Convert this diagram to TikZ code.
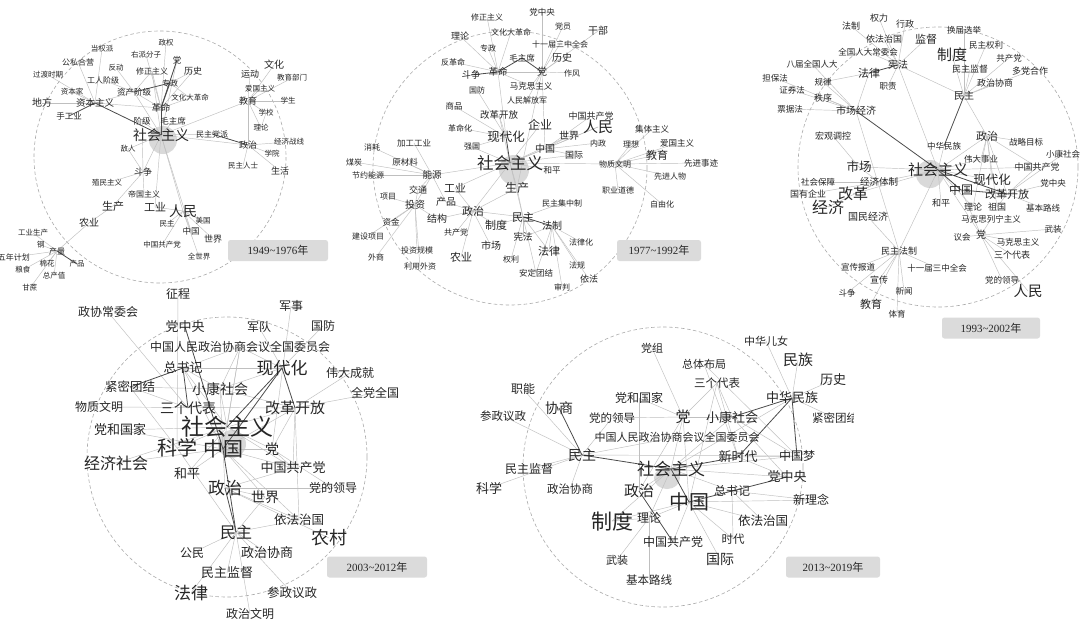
\documentclass[tikz,border=0pt]{standalone}
\usepackage{fontspec}
\setmainfont{Liberation Serif}
\newfontfamily\cjk{Noto Sans CJK SC}
\usetikzlibrary{backgrounds}
\tikzset{
  w/.style={font=\cjk\fontsize{#1}{#1}\selectfont, inner sep=0pt, text=black!85},
  ed/.style={draw=gray!50, line width=0.45pt},
  edk/.style={draw=black!70, line width=0.8pt},
  ring/.style={draw=gray!65, dash pattern=on 3.5pt off 2.5pt, line width=0.6pt},
  hub/.style={fill=gray!30, draw=none},
  yb/.style={fill=gray!28, rounded corners=2.5pt, minimum width=100pt, minimum height=21pt, inner sep=0pt, font=\fontsize{11}{11}\selectfont, text=black!85}
}
\begin{document}
\begin{tikzpicture}[x=1pt,y=-1pt]
\useasboundingbox (0,0) rectangle (1080,630);
% ---------------- cluster 1 ----------------
\node[w=7.5] (aZQ) at (166,43) {政权};
\node[w=7.5] (aDQP) at (102,49) {当权派};
\node[w=7.5] (aYP) at (146,55) {右派分子};
\node[w=8.5] (aD) at (177,60) {党};
\node[w=8] (aGS) at (78,62) {公私合营};
\node[w=7.5] (aFD) at (116,68) {反动};
\node[w=8] (aXZ) at (152,71) {修正主义};
\node[w=9] (aLS) at (193,71) {历史};
\node[w=7.5] (aGD) at (48,75) {过渡时期};
\node[w=8] (aGR) at (103,80) {工人阶级};
\node[w=8] (aZZ) at (170,83) {专政};
\node[w=9] (aYD) at (250,74) {运动};
\node[w=10] (aWH) at (274,65) {文化};
\node[w=7.5] (aJYB) at (292,78) {教育部门};
\node[w=7.5] (aZBJ) at (72,92) {资本家};
\node[w=8.5] (aZC) at (134,92) {资产阶级};
\node[w=7.5] (aAG) at (260,89) {爱国主义};
\node[w=7.5] (aWG) at (190,98) {文化大革命};
\node[w=7.5] (aXS) at (288,101) {学生};
\node[w=10] (aDF) at (42,103) {地方};
\node[w=9.5] (aZB) at (95,103) {资本主义};
\node[w=9] (aJY) at (248,101) {教育};
\node[w=9.5] (aGM) at (161,108) {革命};
\node[w=7.5] (aXX) at (266,113) {学校};
\node[w=8.5] (aSG) at (69,116) {手工业};
\node[w=8.5] (aJJ) at (142,121) {阶级};
\node[w=8.5] (aMZ) at (173,121) {毛主席};
\node[w=7.5] (aLL) at (261,128) {理论};
\node[w=14] (aSH) at (161,135) {社会主义};
\node[w=8] (aMZDP) at (212,134) {民主党派};
\node[w=7.5] (aJJZX) at (289,142) {经济战线};
\node[w=9] (aZZh) at (248,145) {政治};
\node[w=7.5] (aDR) at (128,149) {敌人};
\node[w=7.5] (aXY) at (272,154) {学院};
\node[w=7.5] (aMZRS) at (243,166) {民主人士};
\node[w=9] (aSHuo) at (280,171) {生活};
\node[w=9] (aDZ) at (143,172) {斗争};
\node[w=7.5] (aZM) at (107,183) {殖民主义};
\node[w=8] (aDG) at (144,194) {帝国主义};
\node[w=11] (aSC) at (113,206) {生产};
\node[w=11] (aGY) at (155,207) {工业};
\node[w=14] (aRM) at (183,211) {人民};
\node[w=10] (aNY) at (89,223) {农业};
\node[w=7.5] (aMZh) at (167,224) {民主};
\node[w=7.5] (aMG) at (203,221) {美国};
\node[w=8.5] (aZG) at (191,231) {中国};
\node[w=9] (aSJ) at (213,239) {世界};
\node[w=7.5] (aGYSC) at (33,233) {工业生产};
\node[w=7.5] (aG) at (41,245) {钢};
\node[w=7.5] (aZGGCD) at (162,245) {中国共产党};
\node[w=8] (aCL) at (57,251) {产量};
\node[w=8,anchor=east] (aWN) at (30,257) {五年计划};
\node[w=7.5] (aMH) at (47,264) {棉花};
\node[w=7.5] (aCP) at (77,264) {产品};
\node[w=7.5] (aQSJ) at (199,257) {全世界};
\node[w=7.5] (aLSh) at (23,270) {粮食};
\node[w=7.5] (aZCZ) at (54,276) {总产值};
\node[w=7.5] (aGZ) at (30,288) {甘蔗};
\node[yb] (ya) at (278,250.5) {1949\textasciitilde 1976{\cjk 年}};
% ---------------- cluster 2 ----------------
\node[w=8.5] (bDZY) at (542,12) {党中央};
\node[w=8] (bXZ) at (487,17) {修正主义};
\node[w=8] (bDY) at (563,26) {党员};
\node[w=10] (bGB) at (598,31) {干部};
\node[w=8] (bWG) at (511,32) {文化大革命};
\node[w=9] (bLL) at (460,36) {理论};
\node[w=8] (bSY) at (560,44) {十一届三中全会};
\node[w=8] (bZZ) at (488,48) {专政};
\node[w=8.5] (bMZX) at (522,58) {毛主席};
\node[w=10] (bLS) at (562,58) {历史};
\node[w=8] (bFG) at (453,62) {反革命};
\node[w=9.5] (bDZ) at (471,75) {斗争};
\node[w=9.5] (bGM) at (498,72) {革命};
\node[w=10] (bD) at (542,72) {党};
\node[w=8] (bZF) at (572,73) {作风};
\node[w=8.5] (bMK) at (531,86) {马克思主义};
\node[w=8] (bGF) at (477,90) {国防};
\node[w=8] (bJFJ) at (527,100) {人民解放军};
\node[w=8.5] (bSP) at (454,106) {商品};
\node[w=9.5] (bGK) at (499,115) {改革开放};
\node[w=12] (bQY) at (540,125) {企业};
\node[w=9] (bGCD) at (591,116) {中国共产党};
\node[w=15] (bRM) at (598,127) {人民};
\node[w=8] (bGMH) at (460,128) {革命化};
\node[w=8.5] (bJT) at (652,129) {集体主义};
\node[w=12.5] (bXD) at (506,137) {现代化};
\node[w=10] (bSJ) at (569,136) {世界};
\node[w=8] (bLX) at (631,144) {理想};
\node[w=8.5] (bAG) at (677,143) {爱国主义};
\node[w=8] (bNZ) at (598,143) {内政};
\node[w=8.5] (bJG) at (414,143) {加工工业};
\node[w=8] (bXH) at (372,147) {消耗};
\node[w=8] (bQG) at (472,147) {强国};
\node[w=10] (bZG) at (545,149) {中国};
\node[w=16.5] (bSH) at (510,163) {社会主义};
\node[w=9] (bGJ) at (574,155) {国际};
\node[w=8] (bWZ) at (615,164) {物质文明};
\node[w=11] (bJY) at (657,155) {教育};
\begin{scope}
\clip (680,150) rectangle (720,175);
\node[w=8.5] (bXJSJ) at (701,163) {先进事迹};
\end{scope}
\node[w=8.5] (bHP) at (552,170) {和平};
\node[w=8] (bMT) at (354,162) {煤炭};
\node[w=8.5] (bYCL) at (405,162) {原材料};
\node[w=8] (bJYNY) at (368,175) {节约能源};
\node[w=9.5] (bNYu) at (432,175) {能源};
\node[w=8] (bXJRW) at (670,176) {先进人物};
\node[w=9] (bJTo) at (418,190) {交通};
\node[w=11] (bGY) at (455,188) {工业};
\node[w=12] (bSC) at (517,188) {生产};
\node[w=8] (bZYDD) at (618,190) {职业道德};
\node[w=8] (bXM) at (388,197) {项目};
\node[w=10] (bCP) at (446,202) {产品};
\node[w=10] (bTZ) at (415,205) {投资};
\node[w=8] (bMJZ) at (562,203) {民主集中制};
\node[w=8] (bZYH) at (662,204) {自由化};
\node[w=11] (bZZh) at (473,211) {政治};
\node[w=10] (bJGo) at (437,219) {结构};
\node[w=11] (bMZ) at (523,217) {民主};
\node[w=11] (bZD) at (496,225) {制度};
\node[w=8.5] (bZJ) at (391,222) {资金};
\node[w=10] (bFZ) at (552,226) {法制};
\node[w=8] (bGCDang) at (456,232) {共产党};
\node[w=9.5] (bXF) at (523,237) {宪法};
\node[w=8] (bJSXM) at (368,236) {建设项目};
\node[w=8] (bFLH) at (581,242) {法律化};
\node[w=10] (bSCh) at (491,246) {市场};
\node[w=8] (bTZGM) at (417,250) {投资规模};
\node[w=11] (bFL) at (549,251) {法律};
\node[w=8] (bWS) at (376,257) {外商};
\node[w=11] (bNY) at (461,257) {农业};
\node[w=8] (bQL) at (511,259) {权利};
\node[w=8] (bFGu) at (577,265) {法规};
\node[w=8] (bLYWZ) at (420,266) {利用外资};
\node[w=8.5] (bAD) at (536,273) {安定团结};
\node[w=9] (bYF) at (589,279) {依法};
\node[w=8] (bSPan) at (562,287) {审判};
\node[yb, minimum width=84pt] (yb) at (659,250.5) {1977\textasciitilde 1992{\cjk 年}};
% ---------------- cluster 3 ----------------
\node[w=9] (cQL) at (879,18) {权力};
\node[w=9] (cFZ) at (851,26) {法制};
\node[w=9] (cXZ) at (905,24) {行政};
\node[w=8.5] (cHJ) at (964,30) {换届选举};
\node[w=9] (cYF) at (884,39) {依法治国};
\node[w=11] (cJD) at (926,39) {监督};
\node[w=15] (cZD) at (952,55) {制度};
\node[w=8.5] (cMQ) at (986,45) {民主权利};
\node[w=8.5] (cQG) at (868,52) {全国人大常委会};
\node[w=8.5] (cGCD) at (1009,58) {共产党};
\node[w=8.5] (cBJ) at (812,64) {八届全国人大};
\node[w=10] (cXF) at (898,65) {宪法};
\node[w=11] (cFL) at (869,73) {法律};
\node[w=9] (cMJ) at (970,69) {民主监督};
\node[w=9] (cDD) at (1030,71) {多党合作};
\node[w=8.5] (cDB) at (775,78) {担保法};
\node[w=8.5] (cGL) at (823,82) {规律};
\node[w=8.5] (cZZ) at (888,86) {职责};
\node[w=9] (cZX) at (995,83) {政治协商};
\node[w=8.5] (cZQ) at (792,90) {证券法};
\node[w=9] (cZXu) at (823,98) {秩序};
\node[w=10] (cMZ) at (964,96) {民主};
\node[w=8.5] (cPJ) at (790,109) {票据法};
\node[w=10] (cSJ) at (856,111) {市场经济};
\node[w=9] (cHG) at (833,136) {宏观调控};
\node[w=11] (cZZh) at (987,136) {政治};
\node[w=8.5] (cZL) at (1026,142) {战略目标};
\node[w=8.5] (cZH) at (944,146) {中华民族};
\node[w=8.5] (cWD) at (981,159) {伟大事业};
\node[w=8.5] (cXK) at (1063,154) {小康社会};
\node[w=9] (cGCDD) at (1037,167) {中国共产党};
\node[w=15] (cSH) at (938,170) {社会主义};
\node[w=12.5] (cXD) at (992,180) {现代化};
\node[w=8.5] (cDZY) at (1053,183) {党中央};
\node[w=12] (cZG) at (961,190) {中国};
\node[w=11] (cGK) at (1007,194) {改革开放};
\node[w=9] (cHP) at (941,203) {和平};
\node[w=9] (cLL) at (973,207) {理论};
\node[w=9] (cZGu) at (997,207) {祖国};
\node[w=8.5] (cJB) at (1043,208) {基本路线};
\node[w=8.5] (cMKL) at (991,219) {马克思列宁主义};
\node[w=8.5] (cWZ) at (1053,229) {武装};
\node[w=8.5] (cYH) at (962,237) {议会};
\node[w=10] (cD) at (981,235) {党};
\node[w=8.5] (cMK) at (1018,242) {马克思主义};
\node[w=12.5] (cSC) at (859,167) {市场};
\node[w=8.5] (cSB) at (818,182) {社会保障};
\node[w=9.5] (cJT) at (879,182) {经济体制};
\node[w=9] (cGY) at (808,194) {国有企业};
\node[w=15] (cGG) at (853,194) {改革};
\node[w=16] (cJJ) at (828,207) {经济};
\node[w=10] (cGM) at (868,217) {国民经济};
\node[w=9] (cMF) at (899,251) {民主法制};
\node[w=9] (cSGD) at (1012,255) {三个代表};
\node[w=8.5] (cXCB) at (858,267) {宣传报道};
\node[w=8.5] (cSY) at (937,268) {十一届三中全会};
\node[w=9] (cXC) at (879,280) {宣传};
\node[w=8.5] (cDL) at (1002,280) {党的领导};
\node[w=8.5] (cXW) at (904,291) {新闻};
\node[w=8.5] (cDZ) at (847,293) {斗争};
\node[w=14.5] (cRM) at (1028,291) {人民};
\node[w=11] (cJY) at (871,304) {教育};
\node[w=8.5] (cTY) at (897,314) {体育};
\node[yb, minimum width=98pt] (yc) at (991,328) {1993\textasciitilde 2002{\cjk 年}};
% ---------------- cluster 4 ----------------
\node[w=12] (dZC) at (178,294) {征程};
\node[w=12] (dZXC) at (108,312) {政协常委会};
\node[w=12] (dJS) at (291,306) {军事};
\node[w=13] (dDZY) at (185,327) {党中央};
\node[w=12] (dJD) at (259,327) {军队};
\node[w=12] (dGF) at (323,326) {国防};
\node[w=12] (dQG) at (240,347) {中国人民政治协商会议全国委员会};
\node[w=13] (dZSJ) at (183,368) {总书记};
\node[w=17] (dXD) at (282,368) {现代化};
\node[w=12] (dWD) at (350,373) {伟大成就};
\node[w=12.5] (dJM) at (130,387) {紧密团结};
\node[w=14] (dXK) at (220,389) {小康社会};
\node[w=12] (dQD) at (375,393) {全党全国};
\node[w=12] (dWZ) at (99,407) {物质文明};
\node[w=14] (dSGD) at (188,408) {三个代表};
\node[w=15] (dGK) at (295,408) {改革开放};
\node[w=13] (dDG) at (120,430) {党和国家};
\node[w=20] (dKX) at (177,448) {科学};
\node[w=20] (dZG) at (223,449) {中国};
\node[w=23] (dSH) at (227,427) {社会主义};
\node[w=14] (dD) at (272,449) {党};
\node[w=13] (dGCD) at (293,468) {中国共产党};
\node[w=13] (dHP) at (187,474) {和平};
\node[w=17] (dZZ) at (225,488) {政治};
\node[w=12] (dDL) at (333,488) {党的领导};
\node[w=14] (dSJ) at (265,497) {世界};
\node[w=16] (dJJ) at (116,463) {经济社会};
\node[w=12.5] (dYF) at (299,520) {依法治国};
\node[w=16] (dMZ) at (236,532) {民主};
\node[w=18] (dNC) at (329,538) {农村};
\node[w=12] (dGM) at (192,553) {公民};
\node[w=13] (dZX) at (267,553) {政治协商};
\node[w=13] (dMJ) at (227,573) {民主监督};
\node[w=17] (dFL) at (191,593) {法律};
\node[w=12.5] (dCZ) at (292,593) {参政议政};
\node[w=12] (dZW) at (250,614) {政治文明};
\node[yb] (yd) at (377,567) {2003\textasciitilde 2012{\cjk 年}};
% ---------------- cluster 5 ----------------
\node[w=11] (eZHEN) at (766,341) {中华儿女};
\node[w=11] (eDZ) at (652,348) {党组};
\node[w=15] (eMZu) at (798,360) {民族};
\node[w=11] (eZT) at (704,364) {总体布局};
\node[w=13] (eLS) at (833,380) {历史};
\node[w=11.5] (eSGD) at (717,383) {三个代表};
\node[w=12] (eZN) at (523,389) {职能};
\node[w=12] (eDG) at (639,398) {党和国家};
\node[w=13] (eZH) at (792,398) {中华民族};
\node[w=14] (eXS) at (559,408) {协商};
\node[w=11.5] (eCZ) at (503,416) {参政议政};
\node[w=11.5] (eDL) at (612,418) {党的领导};
\node[w=15] (eD) at (683,417) {党};
\node[w=13] (eXK) at (732,417) {小康社会};
\begin{scope}
\clip (800,405) rectangle (853,432);
\node[w=11.5] (eJM) at (835,418) {紧密团结};
\end{scope}
\node[w=11] (eQG) at (677,437) {中国人民政治协商会议全国委员会};
\node[w=14] (eMZ) at (582,455) {民主};
\node[w=13] (eXSD) at (738,457) {新时代};
\node[w=12] (eZGM) at (797,456) {中国梦};
\node[w=17] (eSH) at (671,469) {社会主义};
\node[w=12] (eMJ) at (529,469) {民主监督};
\node[w=13] (eDZY) at (787,477) {党中央};
\node[w=13] (eKX) at (489,488) {科学};
\node[w=11.5] (eZX) at (570,489) {政治协商};
\node[w=15] (eZZ) at (639,491) {政治};
\node[w=12] (eZSJ) at (732,491) {总书记};
\node[w=12] (eXLN) at (811,500) {新理念};
\node[w=20] (eZG) at (689,502) {中国};
\node[w=21] (eZD) at (612,521) {制度};
\node[w=12] (eLL) at (649,518) {理论};
\node[w=12.5] (eYF) at (763,521) {依法治国};
\node[w=12] (eGCD) at (673,542) {中国共产党};
\node[w=11.5] (eSD) at (733,539) {时代};
\node[w=14] (eGJ) at (720,559) {国际};
\node[w=11] (eWZ) at (617,560) {武装};
\node[w=11.5] (eJB) at (649,580) {基本路线};
\node[yb, minimum width=94pt] (ye) at (833,567) {2013\textasciitilde 2019{\cjk 年}};
% ================= background =================
\begin{pgfonlayer}{background}
\fill[white] (0,0) rectangle (1080,630);
\draw[ring] (160,157) circle (126);
\draw[ring] (510,168) circle (137);
\draw[ring] (938,167) circle (140);
\draw[ring] (227,457) circle (140);
\draw[ring] (663,467) circle (140);
\fill[hub] (163,140) circle (14);
\fill[hub] (514,170) circle (15);
\fill[hub] (930,174) circle (14);
\fill[hub] (232,444) circle (14);
\fill[hub] (667,478) ellipse (13 and 11);
% cluster 1 edges
\foreach \a/\b in {aSH/aJJ,aSH/aMZ,aSH/aZC,aSH/aDZ,aSH/aRM,aSH/aZZh,aSH/aJY,aSH/aMZDP,aSH/aXZ,aSH/aGY,aSH/aDR,aSH/aD,aSH/aZG,
  aGM/aXZ,aGM/aLS,aGM/aWG,aGM/aZC,aGM/aYP,aGM/aZB,aGM/aZQ,aZZ/aLS,aZZ/aWG,aZC/aFD,aZC/aGR,aZC/aXZ,aZC/aZB,
  aZB/aZBJ,aZB/aDF,aZB/aGS,aZB/aDQP,aZB/aGD,aJY/aYD,aJY/aWH,aJY/aJYB,aJY/aAG,aJY/aXS,aJY/aXX,aJY/aLL,aJY/aZZh,
  aZZh/aJJZX,aZZh/aXY,aZZh/aMZRS,aZZh/aSHuo,aDZ/aZM,aDZ/aDG,aDZ/aSC,aDZ/aDR,aDZ/aJJ,aSC/aNY,aNY/aCL,
  aCL/aGYSC,aCL/aG,aCL/aWN,aCL/aMH,aCL/aLSh,aCL/aZCZ,aCL/aGZ,aRM/aGY,aRM/aMZh,aRM/aZG,aRM/aMG,aRM/aSJ,aRM/aQSJ,aRM/aZGGCD,aXX/aLL}
  \draw[ed] (\a.center) -- (\b.center);
\foreach \a/\b in {aSH/aGM,aSH/aZB,aGM/aZZ,aGM/aD,aZZ/aZC,aZB/aSG,aZZh/aMZDP,aCL/aCP}
  \draw[edk] (\a.center) -- (\b.center);
% cluster 2 edges
\foreach \a/\b in {bGM/bFG,bGM/bZZ,bGM/bXZ,bGM/bWG,bGM/bLL,bGM/bMK,bGM/bD,bD/bZF,bGM/bXD,
  bD/bDZY,bD/bDY,bD/bGB,bD/bSY,bD/bLS,bD/bMK,bD/bJFJ,bD/bZG,bD/bSC,
  bSH/bZG,bSH/bQY,bSH/bRM,bSH/bSJ,bSH/bGJ,bSH/bWZ,bSH/bHP,bSH/bSC,bSH/bNYu,bSH/bGY,bSH/bZZh,bSH/bGK,bSH/bQG,bSH/bMZ,
  bNYu/bXH,bNYu/bMT,bNYu/bYCL,bNYu/bJYNY,bNYu/bJG,bNYu/bJTo,bNYu/bTZ,bNYu/bCP,
  bTZ/bXM,bTZ/bZJ,bTZ/bJSXM,bTZ/bWS,bTZ/bTZGM,bTZ/bLYWZ,bTZ/bJGo,bTZ/bJTo,
  bZZh/bMZ,bZZh/bJGo,bZZh/bGCDang,bZZh/bSCh,bZZh/bNY,bZZh/bSC,bZZh/bCP,bZZh/bZD,bZZh/bGY,
  bMZ/bZD,bMZ/bXF,bMZ/bQL,bMZ/bAD,bMZ/bMJZ,bMZ/bFL,bMZ/bSC,
  bFZ/bFLH,bFZ/bFL,bFZ/bFGu,bFZ/bYF,bFZ/bSPan,bFZ/bXF,bFZ/bAD,
  bWZ/bLX,bWZ/bJT,bWZ/bAG,bWZ/bJY,bWZ/bXJSJ,bWZ/bXJRW,bWZ/bZYDD,bWZ/bZYH,
  bZG/bGCD,bZG/bSJ,bZG/bRM,bZG/bNZ,bZG/bGJ,bSP/bXD,bGMH/bXD,bQG/bXD,bGF/bXD,bGK/bXD}
  \draw[ed] (\a.center) -- (\b.center);
\foreach \a/\b in {bGM/bMZX,bMZX/bD,bGM/bDZ,bMZ/bFZ,bXD/bSH}
  \draw[edk] (\a.center) -- (\b.center);
% cluster 3 edges
\foreach \a/\b in {cXF/cYF,cXF/cQG,cXF/cFZ,cXF/cQL,cXF/cXZ,cXF/cJD,cXF/cZZ,cXF/cMZ,cXF/cSH,
  cMZ/cHJ,cMZ/cMQ,cMZ/cGCD,cMZ/cDD,cMZ/cMJ,cMZ/cZX,cMZ/cZD,cMZ/cZZh,
  cSJ/cFL,cSJ/cBJ,cSJ/cDB,cSJ/cZQ,cSJ/cGL,cSJ/cZXu,cSJ/cPJ,cSJ/cMF,
  cSH/cSC,cSH/cJT,cSH/cGG,cSH/cXD,cSH/cLL,cSH/cD,cSH/cMF,cSH/cZH,cSH/cZZh,cSH/cHP,cSH/cWD,cSH/cGCDD,
  cZZh/cWD,cZZh/cGCDD,cZZh/cGK,cZZh/cZGu,cZZh/cZL,cZZh/cXD,cZZh/cLL,cGK/cXK,cGK/cDZY,cGK/cJB,cGK/cZGu,cGK/cGCDD,
  cD/cMKL,cD/cMK,cD/cWZ,cD/cSGD,cD/cDL,cD/cRM,cD/cYH,cD/cZG,
  cMF/cXCB,cMF/cXC,cMF/cXW,cMF/cDZ,cMF/cJY,cMF/cTY,cMF/cSY,cMF/cGM,
  cJT/cSB,cJT/cGY,cJT/cGG,cJT/cJJ,cJT/cSC,cHG/cSC,cFL/cGL}
  \draw[ed] (\a.center) -- (\b.center);
\foreach \a/\b in {cXF/cFL,cSJ/cSH,cMZ/cZH,cSH/cZG,cSH/cGK,cZG/cGK}
  \draw[edk] (\a.center) -- (\b.center);
% cluster 4 edges
\foreach \a/\b in {dZC/dKX,dZXC/dSGD,dJS/dD,dJD/dXD,dGF/dXD,dQG/dSH,dQG/dXK,dQG/dZSJ,dQG/dZG,dQG/dXD,
  dZSJ/dXD,dZSJ/dXK,dZSJ/dZG,dZSJ/dSH,dJM/dSGD,dJM/dKX,dJM/dXK,dXK/dSH,dXK/dGK,dXK/dXD,dXK/dZG,
  dWZ/dGK,dGK/dWD,dGK/dQD,dGK/dSH,dGK/dZG,dGK/dD,dGK/dGCD,dGK/dYF,dDG/dSH,dDG/dZG,dJJ/dSH,dJJ/dZG,
  dSH/dD,dSH/dGCD,dSH/dHP,dSH/dKX,dZG/dHP,dZG/dD,dZG/dGCD,dZG/dSJ,dZG/dYF,dZG/dZZ,
  dZZ/dDL,dZZ/dGCD,dZZ/dNC,dZZ/dYF,dZZ/dSJ,dMZ/dGM,dMZ/dZX,dMZ/dMJ,dMZ/dFL,dMZ/dCZ,dMZ/dZW,dMZ/dYF,dMZ/dSJ,dMZ/dKX,dD/dDL,dD/dGCD}
  \draw[ed] (\a.center) -- (\b.center);
\foreach \a/\b in {dDZY/dZG,dZSJ/dJM,dZG/dMZ,dZG/dXD,dXD/dGK,dZSJ/dSGD,dSH/dXD,dZZ/dMZ}
  \draw[edk] (\a.center) -- (\b.center);
% cluster 5 edges
\foreach \a/\b in {eMZ/eZN,eMZ/eCZ,eMZ/eMJ,eMZ/eKX,eMZ/eZX,eMZ/eQG,eMZ/eZGM,eMZ/eDL,
  eZH/eZHEN,eZH/eMZu,eZH/eLS,eZH/eJM,eZH/eSH,eD/eDZ,eD/eDG,eD/eDL,eD/eSH,eD/eZG,eD/eSGD,eD/eZZ,eD/eXK,
  eSGD/eXSD,eSGD/eZG,eSGD/eXK,eZT/eXSD,eZT/eZGM,eSH/eZGM,eSH/eXK,eSH/eZSJ,eSH/eDZY,eSH/eZZ,eSH/eLL,eSH/eZD,
  eZG/eGJ,eZG/eGCD,eZG/eYF,eZG/eSD,eZG/eXLN,eZG/eZD,eZG/eLL,eLL/eWZ,eLL/eJB,eLL/eZD,eZSJ/eYF,eZSJ/eSD,eZSJ/eXLN,
  eXSD/eZGM,eXSD/eDZY,eDG/eZZ,eXK/eZGM,eXK/eDZY}
  \draw[ed] (\a.center) -- (\b.center);
\foreach \a/\b in {eMZ/eXS,eMZ/eSH,eZH/eZGM,eZH/eXK,eZH/eXSD,eSH/eXSD,eZSJ/eDZY,eZZ/eGCD,eSH/eZG,eZG/eZSJ}
  \draw[edk] (\a.center) -- (\b.center);
\end{pgfonlayer}
\end{tikzpicture}
\end{document}
